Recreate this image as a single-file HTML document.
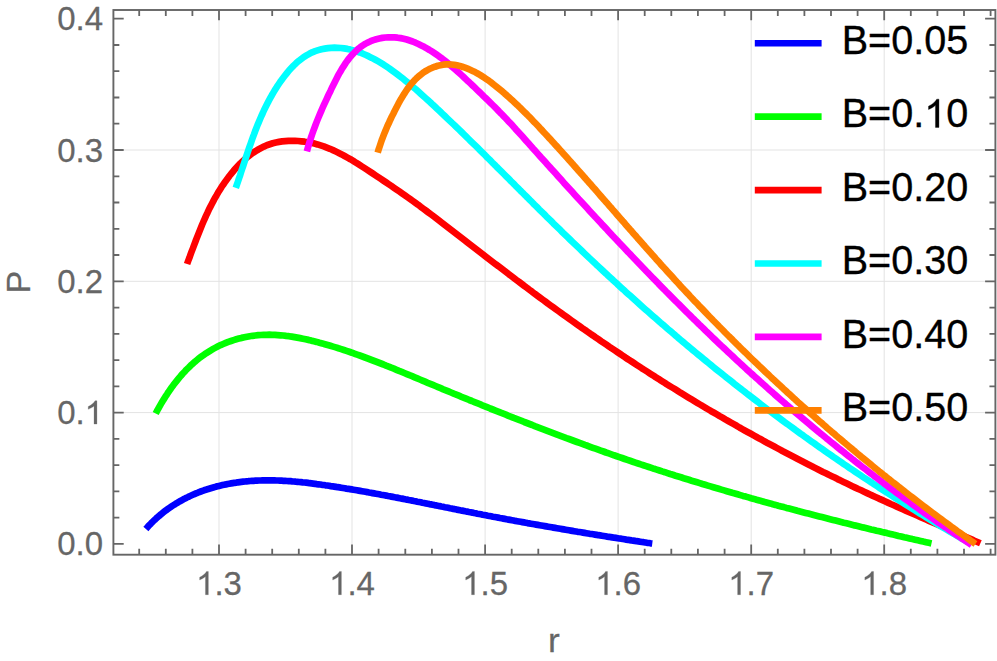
<!DOCTYPE html>
<html><head><meta charset="utf-8"><title>plot</title>
<style>
html,body{margin:0;padding:0;background:#fff}
body{width:997px;height:661px;overflow:hidden}
svg{display:block}
text{font-family:"Liberation Sans",sans-serif}
</style></head><body>
<svg width="997" height="661" viewBox="0 0 997 661">
<rect width="997" height="661" fill="#fff"/>
<path d="M219.0 10.0 V554.7 M352.0 10.0 V554.7 M485.1 10.0 V554.7 M618.1 10.0 V554.7 M751.2 10.0 V554.7 M884.2 10.0 V554.7 M113.4 412.6 H995.4 M113.4 281.3 H995.4 M113.4 150.0 H995.4" stroke="#e3e3e3" stroke-width="1" fill="none"/>
<path d="M145.9 529.0 L147.1 527.6 L148.3 526.2 L149.6 524.9 L150.9 523.6 L152.1 522.3 L153.4 521.0 L154.8 519.8 L156.1 518.5 L157.4 517.3 L158.8 516.2 L160.1 515.0 L161.5 513.9 L162.9 512.7 L164.3 511.6 L165.7 510.6 L167.1 509.5 L168.5 508.5 L170.0 507.5 L171.4 506.5 L172.9 505.5 L174.4 504.6 L175.8 503.7 L177.3 502.8 L178.8 501.9 L180.4 501.0 L181.9 500.2 L183.4 499.3 L185.0 498.5 L186.5 497.7 L188.1 497.0 L189.6 496.2 L191.2 495.5 L192.8 494.8 L194.4 494.1 L196.0 493.4 L197.6 492.8 L199.2 492.1 L200.8 491.5 L202.5 490.9 L204.1 490.3 L205.8 489.8 L207.4 489.2 L209.1 488.7 L210.7 488.2 L212.4 487.7 L214.1 487.2 L215.7 486.8 L217.4 486.3 L219.1 485.9 L220.8 485.5 L222.5 485.1 L224.2 484.7 L225.9 484.4 L227.6 484.0 L229.3 483.7 L231.1 483.4 L232.8 483.1 L234.5 482.8 L236.2 482.6 L238.0 482.3 L239.7 482.1 L241.4 481.9 L243.2 481.7 L244.9 481.5 L246.7 481.3 L248.4 481.2 L250.1 481.0 L251.9 480.9 L253.6 480.8 L255.4 480.7 L257.1 480.6 L258.9 480.5 L260.6 480.5 L262.4 480.4 L264.1 480.4 L265.9 480.4 L267.6 480.3 L269.4 480.4 L271.1 480.4 L272.9 480.4 L274.6 480.4 L276.4 480.5 L278.1 480.5 L279.9 480.6 L281.7 480.7 L283.4 480.8 L285.2 480.9 L286.9 481.0 L288.7 481.1 L290.4 481.2 L292.2 481.4 L293.9 481.5 L295.7 481.7 L297.4 481.8 L299.2 482.0 L301.0 482.2 L302.7 482.4 L304.5 482.5 L306.2 482.7 L308.0 482.9 L309.7 483.2 L311.5 483.4 L313.2 483.6 L315.0 483.8 L316.7 484.1 L318.5 484.3 L320.2 484.5 L322.0 484.8 L323.7 485.0 L325.5 485.3 L327.2 485.5 L329.0 485.8 L330.7 486.1 L332.5 486.3 L334.2 486.6 L336.0 486.9 L337.7 487.2 L339.5 487.4 L341.2 487.7 L342.9 488.0 L344.7 488.3 L346.4 488.6 L348.2 488.8 L349.9 489.1 L351.6 489.4 L353.4 489.7 L355.1 490.0 L356.8 490.3 L358.6 490.6 L360.3 490.9 L362.0 491.2 L363.8 491.5 L365.5 491.8 L367.2 492.1 L369.0 492.5 L370.7 492.8 L372.4 493.1 L374.2 493.4 L375.9 493.7 L377.6 494.0 L379.3 494.3 L381.1 494.7 L382.8 495.0 L384.5 495.3 L386.2 495.6 L388.0 496.0 L389.7 496.3 L391.4 496.6 L393.1 496.9 L394.9 497.3 L396.6 497.6 L398.3 497.9 L400.0 498.3 L401.8 498.6 L403.5 498.9 L405.2 499.3 L406.9 499.6 L408.7 500.0 L410.4 500.3 L412.1 500.6 L413.8 501.0 L415.5 501.3 L417.3 501.7 L419.0 502.0 L420.7 502.3 L422.4 502.7 L424.1 503.0 L425.9 503.4 L427.6 503.7 L429.3 504.1 L431.0 504.4 L432.7 504.7 L434.4 505.1 L436.2 505.4 L437.9 505.8 L439.6 506.1 L441.3 506.5 L443.0 506.8 L444.8 507.2 L446.5 507.5 L448.2 507.8 L449.9 508.2 L451.6 508.5 L453.4 508.9 L455.1 509.2 L456.8 509.6 L458.5 509.9 L460.2 510.3 L461.9 510.6 L463.7 510.9 L465.4 511.3 L467.1 511.6 L468.8 512.0 L470.5 512.3 L472.3 512.6 L474.0 513.0 L475.7 513.3 L477.4 513.7 L479.2 514.0 L480.9 514.3 L482.6 514.7 L484.3 515.0 L486.0 515.3 L487.8 515.7 L489.5 516.0 L491.2 516.3 L492.9 516.7 L494.7 517.0 L496.4 517.3 L498.1 517.6 L499.8 518.0 L501.6 518.3 L503.3 518.6 L505.0 518.9 L506.7 519.3 L508.5 519.6 L510.2 519.9 L511.9 520.2 L513.6 520.5 L515.4 520.9 L517.1 521.2 L518.8 521.5 L520.6 521.8 L522.3 522.1 L524.0 522.4 L525.7 522.7 L527.5 523.1 L529.2 523.4 L530.9 523.7 L532.7 524.0 L534.4 524.3 L536.1 524.6 L537.9 524.9 L539.6 525.2 L541.3 525.5 L543.0 525.8 L544.8 526.1 L546.5 526.4 L548.2 526.7 L550.0 527.0 L551.7 527.3 L553.4 527.6 L555.2 527.9 L556.9 528.2 L558.6 528.5 L560.4 528.8 L562.1 529.1 L563.8 529.4 L565.6 529.7 L567.3 530.0 L569.0 530.3 L570.8 530.6 L572.5 530.9 L574.2 531.2 L576.0 531.5 L577.7 531.8 L579.4 532.0 L581.2 532.3 L582.9 532.6 L584.6 532.9 L586.4 533.2 L588.1 533.5 L589.8 533.8 L591.6 534.0 L593.3 534.3 L595.0 534.6 L596.8 534.9 L598.5 535.2 L600.2 535.4 L602.0 535.7 L603.7 536.0 L605.5 536.3 L607.2 536.6 L608.9 536.8 L610.7 537.1 L612.4 537.4 L614.1 537.7 L615.9 537.9 L617.6 538.2 L619.3 538.5 L621.1 538.7 L622.8 539.0 L624.5 539.3 L626.3 539.6 L628.0 539.8 L629.7 540.1 L631.5 540.4 L633.2 540.6 L634.9 540.9 L636.7 541.2 L638.4 541.4 L640.2 541.7 L641.9 542.0 L643.6 542.2 L645.4 542.5 L647.1 542.8 L648.8 543.0 L650.6 543.3 L652.3 543.5" stroke="#0000ff" stroke-width="6.7" fill="none" stroke-linejoin="round"/>
<path d="M155.7 413.6 L156.9 411.2 L158.2 408.8 L159.6 406.3 L161.0 403.9 L162.4 401.5 L163.9 399.1 L165.4 396.7 L167.0 394.3 L168.5 391.9 L170.2 389.6 L171.8 387.2 L173.5 384.9 L175.3 382.7 L177.1 380.4 L178.9 378.2 L180.7 376.0 L182.6 373.8 L184.6 371.7 L186.5 369.6 L188.6 367.6 L190.6 365.6 L192.7 363.7 L194.8 361.8 L197.0 360.0 L199.2 358.2 L201.4 356.5 L203.7 354.9 L206.0 353.3 L208.4 351.8 L210.8 350.3 L213.2 348.9 L215.6 347.6 L218.1 346.3 L220.6 345.1 L223.2 344.0 L225.8 342.9 L228.3 341.9 L231.0 341.0 L233.6 340.1 L236.3 339.3 L238.9 338.6 L241.6 337.9 L244.4 337.3 L247.1 336.7 L249.8 336.2 L252.6 335.8 L255.3 335.5 L258.1 335.2 L260.9 335.0 L263.7 334.8 L266.5 334.8 L269.3 334.7 L272.1 334.8 L274.9 334.9 L277.7 335.1 L280.5 335.3 L283.3 335.5 L286.1 335.9 L288.9 336.2 L291.7 336.6 L294.5 337.1 L297.3 337.6 L300.1 338.1 L302.9 338.7 L305.7 339.3 L308.5 339.9 L311.2 340.6 L314.0 341.2 L316.7 341.9 L319.5 342.7 L322.2 343.4 L324.9 344.2 L327.7 345.0 L330.4 345.8 L333.1 346.6 L335.8 347.4 L338.5 348.3 L341.2 349.1 L343.9 350.0 L346.5 350.9 L349.2 351.8 L351.9 352.7 L354.5 353.7 L357.2 354.6 L359.8 355.5 L362.5 356.5 L365.1 357.5 L367.8 358.5 L370.4 359.5 L373.0 360.5 L375.7 361.5 L378.3 362.5 L380.9 363.5 L383.5 364.5 L386.1 365.6 L388.7 366.6 L391.3 367.7 L393.9 368.7 L396.5 369.8 L399.1 370.9 L401.7 371.9 L404.3 373.0 L406.9 374.1 L409.5 375.2 L412.1 376.2 L414.7 377.3 L417.3 378.4 L419.9 379.5 L422.5 380.6 L425.1 381.7 L427.7 382.8 L430.3 383.8 L432.9 384.9 L435.5 386.0 L438.1 387.1 L440.7 388.2 L443.3 389.3 L445.9 390.3 L448.5 391.4 L451.1 392.5 L453.7 393.6 L456.3 394.6 L458.9 395.7 L461.5 396.8 L464.1 397.8 L466.7 398.9 L469.3 400.0 L471.9 401.0 L474.5 402.1 L477.2 403.2 L479.8 404.2 L482.4 405.3 L485.0 406.3 L487.6 407.4 L490.2 408.5 L492.8 409.5 L495.5 410.6 L498.1 411.6 L500.7 412.7 L503.3 413.7 L505.9 414.7 L508.5 415.8 L511.2 416.8 L513.8 417.9 L516.4 418.9 L519.0 419.9 L521.7 420.9 L524.3 422.0 L526.9 423.0 L529.5 424.0 L532.2 425.0 L534.8 426.1 L537.4 427.1 L540.0 428.1 L542.7 429.1 L545.3 430.1 L547.9 431.1 L550.6 432.1 L553.2 433.1 L555.8 434.1 L558.5 435.1 L561.1 436.1 L563.8 437.1 L566.4 438.1 L569.0 439.0 L571.7 440.0 L574.3 441.0 L577.0 442.0 L579.6 442.9 L582.3 443.9 L584.9 444.9 L587.6 445.8 L590.2 446.8 L592.9 447.8 L595.5 448.7 L598.2 449.7 L600.8 450.6 L603.5 451.5 L606.1 452.5 L608.8 453.4 L611.4 454.3 L614.1 455.3 L616.8 456.2 L619.4 457.1 L622.1 458.0 L624.8 459.0 L627.4 459.9 L630.1 460.8 L632.8 461.7 L635.4 462.6 L638.1 463.5 L640.8 464.4 L643.4 465.2 L646.1 466.1 L648.8 467.0 L651.5 467.9 L654.1 468.8 L656.8 469.6 L659.5 470.5 L662.2 471.4 L664.9 472.2 L667.5 473.1 L670.2 474.0 L672.9 474.8 L675.6 475.7 L678.3 476.5 L681.0 477.3 L683.7 478.2 L686.3 479.0 L689.0 479.8 L691.7 480.7 L694.4 481.5 L697.1 482.3 L699.8 483.1 L702.5 484.0 L705.2 484.8 L707.9 485.6 L710.6 486.4 L713.3 487.2 L716.0 488.0 L718.7 488.8 L721.4 489.6 L724.1 490.4 L726.8 491.2 L729.5 492.0 L732.2 492.8 L734.9 493.5 L737.6 494.3 L740.3 495.1 L743.0 495.9 L745.8 496.6 L748.5 497.4 L751.2 498.2 L753.9 498.9 L756.6 499.7 L759.3 500.4 L762.0 501.2 L764.7 502.0 L767.5 502.7 L770.2 503.4 L772.9 504.2 L775.6 504.9 L778.3 505.7 L781.1 506.4 L783.8 507.1 L786.5 507.9 L789.2 508.6 L791.9 509.3 L794.7 510.0 L797.4 510.8 L800.1 511.5 L802.8 512.2 L805.6 512.9 L808.3 513.6 L811.0 514.3 L813.7 515.0 L816.5 515.7 L819.2 516.4 L821.9 517.1 L824.7 517.8 L827.4 518.5 L830.1 519.2 L832.9 519.9 L835.6 520.6 L838.3 521.3 L841.1 522.0 L843.8 522.7 L846.5 523.3 L849.3 524.0 L852.0 524.7 L854.7 525.4 L857.5 526.0 L860.2 526.7 L862.9 527.4 L865.7 528.0 L868.4 528.7 L871.2 529.4 L873.9 530.0 L876.6 530.7 L879.4 531.3 L882.1 532.0 L884.9 532.6 L887.6 533.3 L890.3 533.9 L893.1 534.6 L895.8 535.2 L898.6 535.9 L901.3 536.5 L904.1 537.2 L906.8 537.8 L909.5 538.4 L912.3 539.1 L915.0 539.7 L917.8 540.3 L920.5 540.9 L923.3 541.6 L926.0 542.2 L928.8 542.8 L931.5 543.4" stroke="#00ff00" stroke-width="6.7" fill="none" stroke-linejoin="round"/>
<path d="M187.1 264.0 L188.2 260.9 L189.4 257.8 L190.5 254.7 L191.6 251.7 L192.8 248.6 L193.9 245.6 L195.1 242.5 L196.2 239.5 L197.4 236.5 L198.6 233.5 L199.8 230.5 L201.0 227.5 L202.2 224.5 L203.5 221.5 L204.8 218.6 L206.1 215.6 L207.5 212.7 L208.8 209.8 L210.3 206.9 L211.8 204.0 L213.3 201.1 L214.8 198.2 L216.5 195.4 L218.1 192.6 L219.9 189.7 L221.6 186.9 L223.5 184.2 L225.4 181.4 L227.4 178.7 L229.4 176.0 L231.5 173.4 L233.6 170.8 L235.8 168.3 L238.1 165.8 L240.4 163.4 L242.8 161.1 L245.2 158.9 L247.7 156.8 L250.3 154.8 L252.9 152.9 L255.6 151.1 L258.3 149.5 L261.1 148.0 L263.9 146.6 L266.8 145.3 L269.8 144.3 L272.8 143.3 L275.9 142.5 L279.0 141.9 L282.1 141.4 L285.3 141.1 L288.5 140.8 L291.7 140.8 L294.9 140.8 L298.2 141.0 L301.4 141.3 L304.7 141.7 L307.9 142.2 L311.1 142.8 L314.3 143.6 L317.5 144.4 L320.6 145.4 L323.8 146.4 L326.8 147.6 L329.9 148.8 L332.9 150.1 L335.9 151.5 L338.8 152.9 L341.7 154.4 L344.6 156.0 L347.5 157.6 L350.4 159.2 L353.2 160.9 L356.0 162.7 L358.8 164.4 L361.6 166.2 L364.4 168.0 L367.1 169.8 L369.9 171.6 L372.6 173.4 L375.3 175.2 L378.0 177.0 L380.7 178.8 L383.4 180.6 L386.1 182.4 L388.8 184.2 L391.5 186.0 L394.2 187.9 L396.8 189.7 L399.5 191.5 L402.2 193.4 L404.8 195.2 L407.4 197.1 L410.1 199.0 L412.7 200.9 L415.3 202.8 L418.0 204.7 L420.6 206.7 L423.2 208.6 L425.8 210.5 L428.4 212.5 L431.0 214.4 L433.7 216.4 L436.3 218.4 L438.9 220.4 L441.4 222.3 L444.0 224.3 L446.6 226.3 L449.2 228.3 L451.8 230.3 L454.4 232.3 L457.0 234.3 L459.6 236.3 L462.2 238.3 L464.8 240.3 L467.3 242.3 L469.9 244.3 L472.5 246.3 L475.1 248.3 L477.7 250.3 L480.3 252.3 L482.9 254.3 L485.4 256.3 L488.0 258.3 L490.6 260.3 L493.2 262.3 L495.8 264.3 L498.4 266.2 L501.0 268.2 L503.6 270.2 L506.2 272.2 L508.8 274.2 L511.4 276.1 L514.0 278.1 L516.6 280.1 L519.2 282.0 L521.8 284.0 L524.4 286.0 L527.0 287.9 L529.6 289.9 L532.2 291.8 L534.8 293.8 L537.4 295.7 L540.1 297.7 L542.7 299.6 L545.3 301.5 L547.9 303.5 L550.6 305.4 L553.2 307.3 L555.9 309.2 L558.5 311.1 L561.1 313.0 L563.8 314.9 L566.4 316.8 L569.1 318.7 L571.7 320.6 L574.4 322.5 L577.1 324.4 L579.7 326.3 L582.4 328.2 L585.1 330.0 L587.7 331.9 L590.4 333.8 L593.1 335.6 L595.8 337.5 L598.5 339.3 L601.2 341.2 L603.9 343.0 L606.6 344.8 L609.3 346.7 L612.0 348.5 L614.7 350.3 L617.4 352.1 L620.1 353.9 L622.8 355.7 L625.5 357.6 L628.2 359.4 L631.0 361.1 L633.7 362.9 L636.4 364.7 L639.2 366.5 L641.9 368.3 L644.6 370.0 L647.4 371.8 L650.1 373.6 L652.9 375.3 L655.6 377.1 L658.4 378.8 L661.1 380.6 L663.9 382.3 L666.6 384.1 L669.4 385.8 L672.2 387.5 L675.0 389.2 L677.7 390.9 L680.5 392.7 L683.3 394.4 L686.1 396.1 L688.9 397.8 L691.6 399.4 L694.4 401.1 L697.2 402.8 L700.0 404.5 L702.8 406.2 L705.6 407.8 L708.4 409.5 L711.2 411.2 L714.1 412.8 L716.9 414.4 L719.7 416.1 L722.5 417.7 L725.3 419.4 L728.2 421.0 L731.0 422.6 L733.8 424.2 L736.7 425.8 L739.5 427.5 L742.3 429.1 L745.2 430.7 L748.0 432.2 L750.9 433.8 L753.7 435.4 L756.6 437.0 L759.4 438.6 L762.3 440.1 L765.2 441.7 L768.0 443.3 L770.9 444.8 L773.8 446.3 L776.7 447.9 L779.5 449.4 L782.4 451.0 L785.3 452.5 L788.2 454.0 L791.1 455.5 L794.0 457.0 L796.8 458.5 L799.7 460.0 L802.6 461.5 L805.5 463.0 L808.4 464.5 L811.4 466.0 L814.3 467.5 L817.2 468.9 L820.1 470.4 L823.0 471.9 L825.9 473.3 L828.8 474.8 L831.8 476.2 L834.7 477.6 L837.6 479.1 L840.6 480.5 L843.5 481.9 L846.4 483.3 L849.4 484.8 L852.3 486.2 L855.3 487.6 L858.2 489.0 L861.2 490.3 L864.1 491.7 L867.1 493.1 L870.0 494.5 L873.0 495.9 L876.0 497.2 L878.9 498.6 L881.9 499.9 L884.9 501.3 L887.8 502.6 L890.8 504.0 L893.8 505.3 L896.8 506.6 L899.7 507.9 L902.7 509.3 L905.7 510.6 L908.7 511.9 L911.7 513.2 L914.7 514.5 L917.6 515.8 L920.6 517.1 L923.6 518.4 L926.6 519.7 L929.6 521.1 L932.6 522.4 L935.6 523.7 L938.6 525.0 L941.6 526.3 L944.6 527.6 L947.6 528.9 L950.5 530.2 L953.5 531.5 L956.5 532.8 L959.5 534.1 L962.5 535.4 L965.5 536.7 L968.5 538.0 L971.5 539.3 L974.4 540.7 L977.4 542.0 L980.4 543.3" stroke="#ff0000" stroke-width="6.7" fill="none" stroke-linejoin="round"/>
<path d="M235.8 187.8 L236.9 184.7 L238.0 181.5 L239.0 178.4 L240.1 175.3 L241.1 172.1 L242.1 169.0 L243.2 165.8 L244.2 162.7 L245.3 159.5 L246.3 156.4 L247.4 153.2 L248.4 150.1 L249.5 146.9 L250.6 143.8 L251.7 140.7 L252.8 137.5 L254.0 134.4 L255.1 131.3 L256.3 128.2 L257.5 125.1 L258.8 122.1 L260.1 119.0 L261.4 116.0 L262.8 113.0 L264.1 110.0 L265.6 107.0 L267.1 104.0 L268.6 101.1 L270.2 98.2 L271.8 95.3 L273.5 92.4 L275.2 89.6 L277.0 86.7 L278.8 84.0 L280.7 81.2 L282.7 78.5 L284.8 75.8 L286.9 73.1 L289.0 70.5 L291.3 68.0 L293.6 65.6 L296.0 63.3 L298.5 61.1 L301.1 59.1 L303.7 57.1 L306.5 55.4 L309.3 53.8 L312.2 52.3 L315.2 51.1 L318.3 50.1 L321.5 49.2 L324.7 48.6 L328.0 48.1 L331.2 47.8 L334.5 47.7 L337.7 47.8 L340.9 48.0 L344.1 48.4 L347.3 48.9 L350.4 49.6 L353.6 50.5 L356.7 51.4 L359.8 52.5 L362.9 53.7 L365.9 55.0 L368.9 56.4 L371.9 57.9 L374.9 59.5 L377.9 61.2 L380.8 62.9 L383.7 64.7 L386.5 66.6 L389.4 68.5 L392.1 70.5 L394.9 72.5 L397.6 74.5 L400.3 76.6 L403.0 78.7 L405.6 80.8 L408.2 82.9 L410.7 85.0 L413.3 87.2 L415.8 89.3 L418.3 91.5 L420.7 93.7 L423.2 95.9 L425.6 98.1 L428.0 100.3 L430.5 102.5 L432.9 104.8 L435.3 107.0 L437.7 109.3 L440.1 111.5 L442.5 113.8 L444.8 116.0 L447.2 118.3 L449.6 120.6 L452.0 122.9 L454.4 125.1 L456.7 127.4 L459.1 129.7 L461.5 132.0 L463.9 134.3 L466.2 136.6 L468.6 139.0 L470.9 141.3 L473.3 143.6 L475.7 145.9 L478.0 148.2 L480.4 150.6 L482.7 152.9 L485.1 155.2 L487.4 157.6 L489.8 159.9 L492.1 162.3 L494.5 164.6 L496.8 167.0 L499.2 169.3 L501.5 171.6 L503.9 174.0 L506.2 176.3 L508.6 178.7 L510.9 181.1 L513.3 183.4 L515.6 185.8 L518.0 188.1 L520.3 190.5 L522.7 192.8 L525.0 195.2 L527.4 197.5 L529.7 199.9 L532.1 202.2 L534.4 204.6 L536.8 206.9 L539.1 209.3 L541.5 211.6 L543.9 213.9 L546.2 216.3 L548.6 218.6 L551.0 220.9 L553.3 223.3 L555.7 225.6 L558.1 227.9 L560.5 230.2 L562.8 232.6 L565.2 234.9 L567.6 237.2 L570.0 239.5 L572.4 241.8 L574.8 244.1 L577.2 246.4 L579.6 248.7 L582.0 251.0 L584.4 253.3 L586.8 255.6 L589.2 257.9 L591.6 260.1 L594.0 262.4 L596.4 264.7 L598.8 266.9 L601.3 269.2 L603.7 271.5 L606.1 273.7 L608.5 276.0 L611.0 278.2 L613.4 280.5 L615.9 282.7 L618.3 285.0 L620.7 287.2 L623.2 289.4 L625.6 291.7 L628.1 293.9 L630.6 296.1 L633.0 298.3 L635.5 300.5 L638.0 302.8 L640.4 305.0 L642.9 307.2 L645.4 309.4 L647.9 311.6 L650.3 313.7 L652.8 315.9 L655.3 318.1 L657.8 320.3 L660.3 322.5 L662.8 324.6 L665.3 326.8 L667.8 329.0 L670.4 331.1 L672.9 333.3 L675.4 335.4 L677.9 337.6 L680.4 339.7 L683.0 341.9 L685.5 344.0 L688.0 346.1 L690.6 348.3 L693.1 350.4 L695.7 352.5 L698.2 354.6 L700.8 356.7 L703.4 358.8 L705.9 360.9 L708.5 363.0 L711.1 365.1 L713.6 367.2 L716.2 369.3 L718.8 371.4 L721.4 373.4 L724.0 375.5 L726.6 377.6 L729.2 379.6 L731.8 381.7 L734.4 383.8 L737.0 385.8 L739.6 387.8 L742.2 389.9 L744.8 391.9 L747.4 394.0 L750.1 396.0 L752.7 398.0 L755.3 400.0 L758.0 402.0 L760.6 404.1 L763.2 406.1 L765.9 408.1 L768.5 410.1 L771.2 412.1 L773.8 414.0 L776.5 416.0 L779.2 418.0 L781.8 420.0 L784.5 422.0 L787.2 423.9 L789.9 425.9 L792.5 427.8 L795.2 429.8 L797.9 431.7 L800.6 433.7 L803.3 435.6 L806.0 437.6 L808.7 439.5 L811.4 441.4 L814.1 443.3 L816.8 445.3 L819.5 447.2 L822.2 449.1 L824.9 451.0 L827.7 452.9 L830.4 454.8 L833.1 456.7 L835.8 458.5 L838.6 460.4 L841.3 462.3 L844.0 464.2 L846.8 466.0 L849.5 467.9 L852.3 469.8 L855.0 471.6 L857.8 473.5 L860.5 475.3 L863.3 477.2 L866.1 479.0 L868.8 480.8 L871.6 482.6 L874.4 484.5 L877.2 486.3 L879.9 488.1 L882.7 489.9 L885.5 491.7 L888.3 493.5 L891.1 495.3 L893.9 497.1 L896.7 498.9 L899.5 500.6 L902.3 502.4 L905.1 504.2 L907.9 506.0 L910.7 507.7 L913.5 509.5 L916.3 511.2 L919.1 513.0 L922.0 514.7 L924.8 516.4 L927.6 518.2 L930.4 519.9 L933.3 521.6 L936.1 523.3 L938.9 525.1 L941.8 526.8 L944.6 528.5 L947.5 530.2 L950.3 531.9 L953.2 533.5 L956.0 535.2 L958.9 536.9 L961.8 538.6 L964.6 540.2 L967.5 541.9" stroke="#00ffff" stroke-width="6.7" fill="none" stroke-linejoin="round"/>
<path d="M306.9 151.4 L307.7 148.4 L308.6 145.3 L309.5 142.3 L310.4 139.4 L311.4 136.4 L312.4 133.5 L313.4 130.6 L314.5 127.7 L315.6 124.8 L316.7 121.9 L317.8 119.1 L319.0 116.2 L320.2 113.4 L321.4 110.6 L322.6 107.8 L323.9 104.9 L325.2 102.1 L326.5 99.3 L327.8 96.5 L329.1 93.7 L330.5 90.9 L331.8 88.0 L333.2 85.2 L334.6 82.4 L336.1 79.5 L337.5 76.7 L339.0 73.9 L340.6 71.2 L342.2 68.4 L343.9 65.8 L345.6 63.2 L347.4 60.6 L349.3 58.1 L351.3 55.8 L353.4 53.5 L355.6 51.3 L357.8 49.2 L360.2 47.3 L362.7 45.5 L365.2 43.9 L367.9 42.5 L370.6 41.2 L373.4 40.1 L376.3 39.2 L379.3 38.5 L382.3 37.9 L385.3 37.5 L388.3 37.3 L391.4 37.3 L394.5 37.4 L397.5 37.7 L400.6 38.1 L403.6 38.7 L406.7 39.5 L409.7 40.5 L412.6 41.5 L415.5 42.7 L418.4 44.0 L421.3 45.4 L424.1 46.8 L426.8 48.4 L429.5 50.0 L432.2 51.7 L434.8 53.4 L437.4 55.1 L439.9 57.0 L442.4 58.8 L444.8 60.7 L447.3 62.7 L449.7 64.6 L452.0 66.6 L454.4 68.7 L456.7 70.7 L459.0 72.8 L461.3 74.9 L463.6 77.0 L465.8 79.1 L468.1 81.3 L470.4 83.4 L472.6 85.5 L474.9 87.7 L477.1 89.8 L479.4 92.0 L481.6 94.1 L483.8 96.3 L486.1 98.5 L488.3 100.6 L490.5 102.8 L492.7 105.0 L494.9 107.2 L497.1 109.4 L499.2 111.6 L501.4 113.8 L503.6 116.1 L505.7 118.3 L507.8 120.6 L510.0 122.8 L512.1 125.1 L514.2 127.4 L516.2 129.7 L518.3 132.0 L520.4 134.3 L522.5 136.6 L524.6 139.0 L526.6 141.3 L528.7 143.6 L530.8 145.9 L532.8 148.2 L534.9 150.5 L537.0 152.9 L539.1 155.2 L541.1 157.5 L543.2 159.8 L545.3 162.1 L547.4 164.4 L549.5 166.7 L551.5 169.0 L553.6 171.3 L555.7 173.6 L557.8 176.0 L559.9 178.3 L562.0 180.6 L564.0 182.9 L566.1 185.2 L568.2 187.5 L570.3 189.8 L572.4 192.1 L574.5 194.4 L576.6 196.7 L578.7 199.0 L580.8 201.2 L582.9 203.5 L585.0 205.8 L587.1 208.1 L589.2 210.4 L591.3 212.7 L593.4 215.0 L595.5 217.3 L597.6 219.5 L599.7 221.8 L601.8 224.1 L604.0 226.4 L606.1 228.6 L608.2 230.9 L610.3 233.2 L612.4 235.5 L614.5 237.7 L616.7 240.0 L618.8 242.3 L620.9 244.5 L623.1 246.8 L625.2 249.0 L627.3 251.3 L629.5 253.5 L631.6 255.8 L633.7 258.0 L635.9 260.3 L638.0 262.5 L640.2 264.8 L642.3 267.0 L644.5 269.3 L646.6 271.5 L648.8 273.7 L651.0 276.0 L653.1 278.2 L655.3 280.4 L657.5 282.6 L659.6 284.9 L661.8 287.1 L664.0 289.3 L666.1 291.5 L668.3 293.7 L670.5 295.9 L672.7 298.1 L674.9 300.3 L677.1 302.5 L679.3 304.7 L681.5 306.9 L683.7 309.1 L685.9 311.3 L688.1 313.5 L690.3 315.7 L692.5 317.9 L694.7 320.0 L696.9 322.2 L699.1 324.4 L701.4 326.5 L703.6 328.7 L705.8 330.9 L708.1 333.0 L710.3 335.2 L712.5 337.3 L714.8 339.5 L717.0 341.6 L719.3 343.8 L721.5 345.9 L723.8 348.0 L726.1 350.2 L728.3 352.3 L730.6 354.4 L732.9 356.5 L735.1 358.6 L737.4 360.8 L739.7 362.9 L742.0 365.0 L744.3 367.1 L746.5 369.2 L748.8 371.3 L751.1 373.4 L753.4 375.4 L755.7 377.5 L758.1 379.6 L760.4 381.7 L762.7 383.8 L765.0 385.8 L767.3 387.9 L769.6 390.0 L772.0 392.0 L774.3 394.1 L776.6 396.1 L779.0 398.2 L781.3 400.2 L783.7 402.2 L786.0 404.3 L788.4 406.3 L790.7 408.3 L793.1 410.4 L795.4 412.4 L797.8 414.4 L800.2 416.4 L802.5 418.4 L804.9 420.4 L807.3 422.4 L809.7 424.4 L812.0 426.4 L814.4 428.4 L816.8 430.4 L819.2 432.4 L821.6 434.3 L824.0 436.3 L826.4 438.3 L828.8 440.2 L831.2 442.2 L833.7 444.2 L836.1 446.1 L838.5 448.1 L840.9 450.0 L843.4 451.9 L845.8 453.9 L848.2 455.8 L850.7 457.7 L853.1 459.7 L855.5 461.6 L858.0 463.5 L860.4 465.4 L862.9 467.3 L865.4 469.2 L867.8 471.1 L870.3 473.0 L872.8 474.9 L875.2 476.8 L877.7 478.6 L880.2 480.5 L882.7 482.4 L885.1 484.2 L887.6 486.1 L890.1 488.0 L892.6 489.8 L895.1 491.7 L897.6 493.5 L900.1 495.3 L902.6 497.2 L905.1 499.0 L907.7 500.8 L910.2 502.6 L912.7 504.5 L915.2 506.3 L917.7 508.1 L920.3 509.9 L922.8 511.7 L925.3 513.5 L927.9 515.3 L930.4 517.0 L933.0 518.8 L935.5 520.6 L938.1 522.4 L940.6 524.1 L943.2 525.9 L945.8 527.6 L948.3 529.4 L950.9 531.1 L953.5 532.9 L956.1 534.6 L958.6 536.3 L961.2 538.1 L963.8 539.8 L966.4 541.5 L969.0 543.2 L971.6 544.9" stroke="#ff00ff" stroke-width="6.7" fill="none" stroke-linejoin="round"/>
<path d="M377.7 152.6 L378.5 149.9 L379.4 147.2 L380.3 144.5 L381.2 141.8 L382.1 139.2 L383.1 136.6 L384.1 134.0 L385.2 131.4 L386.2 128.9 L387.3 126.3 L388.5 123.8 L389.6 121.3 L390.8 118.8 L392.0 116.2 L393.3 113.7 L394.5 111.2 L395.8 108.7 L397.1 106.2 L398.4 103.7 L399.8 101.2 L401.2 98.7 L402.7 96.3 L404.2 93.8 L405.7 91.5 L407.3 89.1 L409.0 86.9 L410.7 84.6 L412.5 82.5 L414.4 80.4 L416.3 78.5 L418.3 76.6 L420.5 74.8 L422.7 73.1 L425.0 71.5 L427.4 70.1 L429.9 68.8 L432.4 67.7 L435.1 66.7 L437.8 65.8 L440.5 65.2 L443.2 64.7 L446.0 64.4 L448.7 64.3 L451.5 64.5 L454.2 64.8 L457.0 65.3 L459.7 65.9 L462.3 66.7 L465.0 67.6 L467.6 68.6 L470.1 69.7 L472.6 70.9 L475.1 72.1 L477.6 73.5 L480.0 74.9 L482.3 76.4 L484.7 77.9 L487.0 79.5 L489.3 81.1 L491.6 82.8 L493.8 84.6 L496.0 86.3 L498.2 88.1 L500.4 89.9 L502.6 91.7 L504.7 93.6 L506.8 95.4 L508.9 97.3 L511.0 99.2 L513.1 101.1 L515.1 103.0 L517.2 104.9 L519.2 106.9 L521.2 108.8 L523.2 110.8 L525.2 112.8 L527.2 114.7 L529.1 116.7 L531.1 118.7 L533.0 120.8 L535.0 122.8 L536.9 124.8 L538.8 126.8 L540.7 128.9 L542.6 130.9 L544.5 133.0 L546.4 135.0 L548.3 137.1 L550.2 139.1 L552.1 141.2 L554.0 143.3 L555.9 145.4 L557.8 147.4 L559.6 149.5 L561.5 151.6 L563.4 153.7 L565.3 155.8 L567.1 157.8 L569.0 159.9 L570.9 162.0 L572.7 164.1 L574.6 166.2 L576.4 168.3 L578.3 170.4 L580.2 172.5 L582.0 174.6 L583.9 176.7 L585.7 178.8 L587.6 180.9 L589.4 183.0 L591.3 185.1 L593.1 187.2 L595.0 189.3 L596.8 191.4 L598.7 193.6 L600.5 195.7 L602.3 197.8 L604.2 199.9 L606.0 202.0 L607.9 204.1 L609.7 206.2 L611.6 208.3 L613.4 210.5 L615.3 212.6 L617.1 214.7 L618.9 216.8 L620.8 218.9 L622.6 221.0 L624.5 223.1 L626.3 225.3 L628.2 227.4 L630.0 229.5 L631.9 231.6 L633.7 233.7 L635.6 235.8 L637.4 237.9 L639.3 240.0 L641.1 242.1 L643.0 244.2 L644.8 246.3 L646.7 248.4 L648.6 250.5 L650.4 252.6 L652.3 254.7 L654.2 256.8 L656.0 258.9 L657.9 261.0 L659.8 263.1 L661.6 265.2 L663.5 267.3 L665.4 269.3 L667.3 271.4 L669.2 273.5 L671.1 275.6 L672.9 277.6 L674.8 279.7 L676.7 281.8 L678.6 283.8 L680.5 285.9 L682.4 288.0 L684.3 290.0 L686.3 292.1 L688.2 294.1 L690.1 296.2 L692.0 298.2 L693.9 300.3 L695.9 302.3 L697.8 304.3 L699.7 306.4 L701.7 308.4 L703.6 310.4 L705.5 312.4 L707.5 314.5 L709.4 316.5 L711.4 318.5 L713.3 320.5 L715.3 322.5 L717.3 324.5 L719.2 326.5 L721.2 328.5 L723.2 330.5 L725.1 332.5 L727.1 334.5 L729.1 336.5 L731.1 338.4 L733.0 340.4 L735.0 342.4 L737.0 344.4 L739.0 346.3 L741.0 348.3 L743.0 350.3 L745.0 352.2 L747.0 354.2 L749.0 356.2 L751.0 358.1 L753.1 360.1 L755.1 362.0 L757.1 363.9 L759.1 365.9 L761.1 367.8 L763.2 369.8 L765.2 371.7 L767.2 373.6 L769.3 375.5 L771.3 377.5 L773.4 379.4 L775.4 381.3 L777.5 383.2 L779.5 385.1 L781.6 387.0 L783.6 388.9 L785.7 390.8 L787.7 392.7 L789.8 394.6 L791.9 396.5 L794.0 398.4 L796.0 400.3 L798.1 402.2 L800.2 404.0 L802.3 405.9 L804.4 407.8 L806.4 409.6 L808.5 411.5 L810.6 413.4 L812.7 415.2 L814.8 417.1 L816.9 418.9 L819.0 420.8 L821.2 422.6 L823.3 424.5 L825.4 426.3 L827.5 428.2 L829.6 430.0 L831.7 431.8 L833.9 433.6 L836.0 435.5 L838.1 437.3 L840.3 439.1 L842.4 440.9 L844.5 442.7 L846.7 444.5 L848.8 446.3 L851.0 448.1 L853.1 449.9 L855.3 451.7 L857.4 453.5 L859.6 455.3 L861.7 457.1 L863.9 458.9 L866.1 460.7 L868.2 462.4 L870.4 464.2 L872.6 466.0 L874.8 467.8 L876.9 469.5 L879.1 471.3 L881.3 473.0 L883.5 474.8 L885.7 476.5 L887.9 478.3 L890.1 480.0 L892.3 481.8 L894.5 483.5 L896.7 485.2 L898.9 487.0 L901.1 488.7 L903.3 490.4 L905.5 492.2 L907.7 493.9 L909.9 495.6 L912.2 497.3 L914.4 499.0 L916.6 500.7 L918.8 502.4 L921.1 504.1 L923.3 505.8 L925.5 507.5 L927.8 509.2 L930.0 510.9 L932.3 512.6 L934.5 514.2 L936.8 515.9 L939.0 517.6 L941.3 519.3 L943.5 520.9 L945.8 522.6 L948.1 524.2 L950.3 525.9 L952.6 527.6 L954.9 529.2 L957.1 530.9 L959.4 532.5 L961.7 534.1 L964.0 535.8 L966.2 537.4 L968.5 539.0 L970.8 540.7 L973.1 542.3 L975.4 543.9" stroke="#ff8000" stroke-width="6.7" fill="none" stroke-linejoin="round"/>
<path d="M139.2 554.7 v-5.95 M139.2 10.0 v5.95 M165.8 554.7 v-5.95 M165.8 10.0 v5.95 M192.4 554.7 v-5.95 M192.4 10.0 v5.95 M219.0 554.7 v-10.3 M219.0 10.0 v10.3 M245.6 554.7 v-5.95 M245.6 10.0 v5.95 M272.2 554.7 v-5.95 M272.2 10.0 v5.95 M298.8 554.7 v-5.95 M298.8 10.0 v5.95 M325.4 554.7 v-5.95 M325.4 10.0 v5.95 M352.0 554.7 v-10.3 M352.0 10.0 v10.3 M378.6 554.7 v-5.95 M378.6 10.0 v5.95 M405.3 554.7 v-5.95 M405.3 10.0 v5.95 M431.9 554.7 v-5.95 M431.9 10.0 v5.95 M458.5 554.7 v-5.95 M458.5 10.0 v5.95 M485.1 554.7 v-10.3 M485.1 10.0 v10.3 M511.7 554.7 v-5.95 M511.7 10.0 v5.95 M538.3 554.7 v-5.95 M538.3 10.0 v5.95 M564.9 554.7 v-5.95 M564.9 10.0 v5.95 M591.5 554.7 v-5.95 M591.5 10.0 v5.95 M618.1 554.7 v-10.3 M618.1 10.0 v10.3 M644.7 554.7 v-5.95 M644.7 10.0 v5.95 M671.3 554.7 v-5.95 M671.3 10.0 v5.95 M697.9 554.7 v-5.95 M697.9 10.0 v5.95 M724.6 554.7 v-5.95 M724.6 10.0 v5.95 M751.2 554.7 v-10.3 M751.2 10.0 v10.3 M777.8 554.7 v-5.95 M777.8 10.0 v5.95 M804.4 554.7 v-5.95 M804.4 10.0 v5.95 M831.0 554.7 v-5.95 M831.0 10.0 v5.95 M857.6 554.7 v-5.95 M857.6 10.0 v5.95 M884.2 554.7 v-10.3 M884.2 10.0 v10.3 M910.8 554.7 v-5.95 M910.8 10.0 v5.95 M937.4 554.7 v-5.95 M937.4 10.0 v5.95 M964.0 554.7 v-5.95 M964.0 10.0 v5.95 M990.6 554.7 v-5.95 M990.6 10.0 v5.95 M113.4 543.9 h10.3 M995.4 543.9 h-10.3 M113.4 517.6 h5.95 M995.4 517.6 h-5.95 M113.4 491.4 h5.95 M995.4 491.4 h-5.95 M113.4 465.1 h5.95 M995.4 465.1 h-5.95 M113.4 438.9 h5.95 M995.4 438.9 h-5.95 M113.4 412.6 h10.3 M995.4 412.6 h-10.3 M113.4 386.3 h5.95 M995.4 386.3 h-5.95 M113.4 360.1 h5.95 M995.4 360.1 h-5.95 M113.4 333.8 h5.95 M995.4 333.8 h-5.95 M113.4 307.6 h5.95 M995.4 307.6 h-5.95 M113.4 281.3 h10.3 M995.4 281.3 h-10.3 M113.4 255.0 h5.95 M995.4 255.0 h-5.95 M113.4 228.8 h5.95 M995.4 228.8 h-5.95 M113.4 202.5 h5.95 M995.4 202.5 h-5.95 M113.4 176.3 h5.95 M995.4 176.3 h-5.95 M113.4 150.0 h10.3 M995.4 150.0 h-10.3 M113.4 123.7 h5.95 M995.4 123.7 h-5.95 M113.4 97.5 h5.95 M995.4 97.5 h-5.95 M113.4 71.2 h5.95 M995.4 71.2 h-5.95 M113.4 45.0 h5.95 M995.4 45.0 h-5.95 M113.4 18.7 h10.3 M995.4 18.7 h-10.3" stroke="#666666" stroke-width="1.8" fill="none"/>
<rect x="113.4" y="10.0" width="882.0" height="544.7" fill="none" stroke="#666666" stroke-width="1.9"/>
<g transform="translate(103.00,555.40) scale(1.0,1.03)" font-size="33" fill="#666666" stroke="#666666" stroke-width="0.25"><text x="-45.87" y="0">0.0</text></g>
<g transform="translate(103.00,424.10) scale(1.0,1.03)" font-size="33" fill="#666666" stroke="#666666" stroke-width="0.25"><text x="-45.87" y="0">0.</text><path transform="translate(-18.35,0) scale(0.01611,-0.01542)" d="M763 0H583V1147Q518 1085 412.5 1023T223 930V1104Q374 1175 487 1276T647 1472H763Z" stroke-width="15.5"/></g>
<g transform="translate(103.00,292.80) scale(1.0,1.03)" font-size="33" fill="#666666" stroke="#666666" stroke-width="0.25"><text x="-45.87" y="0">0.2</text></g>
<g transform="translate(103.00,161.50) scale(1.0,1.03)" font-size="33" fill="#666666" stroke="#666666" stroke-width="0.25"><text x="-45.87" y="0">0.3</text></g>
<g transform="translate(103.00,30.20) scale(1.0,1.03)" font-size="33" fill="#666666" stroke="#666666" stroke-width="0.25"><text x="-45.87" y="0">0.4</text></g>
<g transform="translate(219.00,594.70) scale(1.0,1.025)" font-size="33" fill="#666666" stroke="#666666" stroke-width="0.25"><path transform="translate(-22.94,0) scale(0.01611,-0.01542)" d="M763 0H583V1147Q518 1085 412.5 1023T223 930V1104Q374 1175 487 1276T647 1472H763Z" stroke-width="15.5"/><text x="-4.59" y="0">.3</text></g>
<g transform="translate(352.04,594.70) scale(1.0,1.025)" font-size="33" fill="#666666" stroke="#666666" stroke-width="0.25"><path transform="translate(-22.94,0) scale(0.01611,-0.01542)" d="M763 0H583V1147Q518 1085 412.5 1023T223 930V1104Q374 1175 487 1276T647 1472H763Z" stroke-width="15.5"/><text x="-4.59" y="0">.4</text></g>
<g transform="translate(485.08,594.70) scale(1.0,1.025)" font-size="33" fill="#666666" stroke="#666666" stroke-width="0.25"><path transform="translate(-22.94,0) scale(0.01611,-0.01542)" d="M763 0H583V1147Q518 1085 412.5 1023T223 930V1104Q374 1175 487 1276T647 1472H763Z" stroke-width="15.5"/><text x="-4.59" y="0">.5</text></g>
<g transform="translate(618.12,594.70) scale(1.0,1.025)" font-size="33" fill="#666666" stroke="#666666" stroke-width="0.25"><path transform="translate(-22.94,0) scale(0.01611,-0.01542)" d="M763 0H583V1147Q518 1085 412.5 1023T223 930V1104Q374 1175 487 1276T647 1472H763Z" stroke-width="15.5"/><text x="-4.59" y="0">.6</text></g>
<g transform="translate(751.16,594.70) scale(1.0,1.025)" font-size="33" fill="#666666" stroke="#666666" stroke-width="0.25"><path transform="translate(-22.94,0) scale(0.01611,-0.01542)" d="M763 0H583V1147Q518 1085 412.5 1023T223 930V1104Q374 1175 487 1276T647 1472H763Z" stroke-width="15.5"/><text x="-4.59" y="0">.7</text></g>
<g transform="translate(884.20,594.70) scale(1.0,1.025)" font-size="33" fill="#666666" stroke="#666666" stroke-width="0.25"><path transform="translate(-22.94,0) scale(0.01611,-0.01542)" d="M763 0H583V1147Q518 1085 412.5 1023T223 930V1104Q374 1175 487 1276T647 1472H763Z" stroke-width="15.5"/><text x="-4.59" y="0">.8</text></g>
<g transform="translate(553.90,652.00) scale(1.04,1.0)" font-size="34" fill="#666666" stroke="#666666" stroke-width="0.25"><text x="-5.66" y="0">r</text></g>
<g transform="translate(29.70,282.10) rotate(-90) scale(1.0,1.0)" font-size="34" fill="#666666" stroke="#666666" stroke-width="0.25"><text x="-11.34" y="0">P</text></g>
<path d="M754.8 43.25 H821.6" stroke="#0000ff" stroke-width="6.7" fill="none"/>
<g transform="translate(841.65,54.00) scale(0.98,1.018)" font-size="40.4" fill="#000" stroke="#000" stroke-width="0.35"><text x="0.00" y="0">B=0.05</text></g>
<path d="M754.8 116.67 H821.6" stroke="#00ff00" stroke-width="6.7" fill="none"/>
<g transform="translate(841.65,127.42) scale(0.98,1.018)" font-size="40.4" fill="#000" stroke="#000" stroke-width="0.35"><text x="0.00" y="0">B=0.</text><path transform="translate(84.23,0) scale(0.01973,-0.01888)" d="M763 0H583V1147Q518 1085 412.5 1023T223 930V1104Q374 1175 487 1276T647 1472H763Z" stroke-width="17.7"/><text x="106.70" y="0">0</text></g>
<path d="M754.8 190.09 H821.6" stroke="#ff0000" stroke-width="6.7" fill="none"/>
<g transform="translate(841.65,200.84) scale(0.98,1.018)" font-size="40.4" fill="#000" stroke="#000" stroke-width="0.35"><text x="0.00" y="0">B=0.20</text></g>
<path d="M754.8 263.51 H821.6" stroke="#00ffff" stroke-width="6.7" fill="none"/>
<g transform="translate(841.65,274.26) scale(0.98,1.018)" font-size="40.4" fill="#000" stroke="#000" stroke-width="0.35"><text x="0.00" y="0">B=0.30</text></g>
<path d="M754.8 336.93 H821.6" stroke="#ff00ff" stroke-width="6.7" fill="none"/>
<g transform="translate(841.65,347.68) scale(0.98,1.018)" font-size="40.4" fill="#000" stroke="#000" stroke-width="0.35"><text x="0.00" y="0">B=0.40</text></g>
<path d="M754.8 410.35 H821.6" stroke="#ff8000" stroke-width="6.7" fill="none"/>
<g transform="translate(841.65,421.10) scale(0.98,1.018)" font-size="40.4" fill="#000" stroke="#000" stroke-width="0.35"><text x="0.00" y="0">B=0.50</text></g>
</svg></body></html>
